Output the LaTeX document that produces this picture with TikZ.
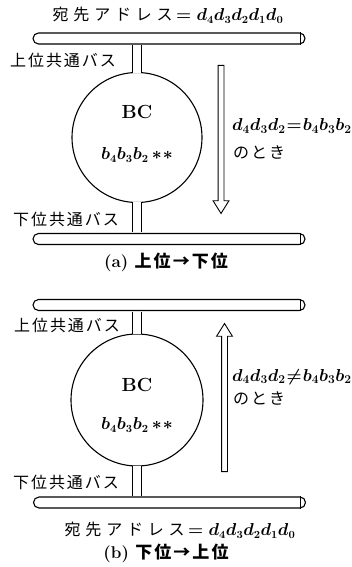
\documentclass[tikz,border=0pt]{standalone}
\usepackage{amsmath}
\usepackage{bm}
\usepackage{fontspec}
\newfontfamily\jp{Noto Sans CJK JP}[LetterSpace=12]
\newfontfamily\jpsp{Noto Sans CJK JP}[LetterSpace=30]
\usetikzlibrary{positioning,calc,shapes.arrows}

\tikzset{
  bus/.style={draw, line width=1.1pt, rounded corners=5.5pt, minimum width=272pt, minimum height=11pt, inner sep=0pt},
  bc/.style={draw, circle, line width=1.1pt, minimum size=130pt, inner sep=0pt},
  stub/.style={line width=1pt, double, double distance=7.5pt},
  lbl/.style={font=\fontsize{16}{18}\selectfont\jp, inner sep=0pt},
  cond/.style={font=\fontsize{17}{19}\selectfont\boldmath, inner sep=0pt, anchor=west},
  bigarrow/.style={single arrow, draw, line width=0.9pt, fill=white, minimum height=148pt, single arrow head extend=5pt, single arrow tip angle=64, inner sep=2.5pt, anchor=tail},
  caption/.style={font=\fontsize{17}{19}\selectfont\bfseries, inner sep=0pt},
}
\newcommand\busend[1]{\draw[line width=1.1pt] ([xshift=-5.5pt]#1.north east) -- ([xshift=-5.5pt]#1.south east);}
\newcommand\dst{{\jpsp 宛先アドレス}$\,=\bm{d_4d_3d_2d_1d_0}$}
\newcommand\adr{$\bm{b_4b_3b_2}\,\bm{{\ast}\mkern1mu{\ast}}$}

\begin{document}
\begin{tikzpicture}[x=1pt,y=-1pt]
\useasboundingbox (0,0) rectangle (352,567);

% (a) upper -> lower
\node[cond, anchor=center, font=\fontsize{16}{18}\selectfont\boldmath] (dsta) at (168,15) {\dst};
\node[bus] (busa) at (169,38.5) {};
\busend{busa}
\node[bc] (bca) at (137,137.5) {};
\node[font=\fontsize{19}{21}\selectfont\bfseries] (bcta) at (137,112) {BC};
\node[font=\fontsize{16}{18}\selectfont\boldmath] (adra) at (137,155) {\adr};
\node[bus] (busb) at (169,239) {};
\busend{busb}
\draw[stub] ($(busa.south -| bca)+(0,0.6)$) -- ($(bca.north)+(0,0.8)$);
\draw[stub] ($(bca.south)+(0,-0.8)$) -- ($(busb.north -| bca)+(0,-0.6)$);
\node[lbl] (upa) at (63,60) {上位共通バス};
\node[lbl] (lowa) at (66,219) {下位共通バス};
\node[bigarrow, shape border rotate=270] (arra) at (221,65) {};
\node[cond] (conda) at (232,126) {$\bm{d_4d_3d_2}\mkern1mu{=}\mkern1mu\bm{b_4b_3b_2}$};
\node[lbl, anchor=west] (whena) at (233,152) {のとき};
\node[caption] (capa) at (166,262) {(a) {\jp 上位→下位}};

% (b) lower -> upper
\node[bus] (busc) at (169,305) {};
\busend{busc}
\node[bc, minimum size=132pt] (bcb) at (137,400) {};
\node[font=\fontsize{19}{21}\selectfont\bfseries] (bctb) at (137,385) {BC};
\node[font=\fontsize{16}{18}\selectfont\boldmath] (adrb) at (137,425) {\adr};
\node[bus] (busd) at (169.5,502.5) {};
\busend{busd}
\draw[stub] ($(busc.south -| bcb)+(0,0.6)$) -- ($(bcb.north)+(0,0.8)$);
\draw[stub] ($(bcb.south)+(0,-0.8)$) -- ($(busd.north -| bcb)+(0,-0.6)$);
\node[lbl] (upb) at (67,325) {上位共通バス};
\node[lbl] (lowb) at (66,482) {下位共通バス};
\node[bigarrow, shape border rotate=90] (arrb) at (224.5,472) {};
\node[cond] (condb) at (232,377) {$\bm{d_4d_3d_2}\mkern1mu{\neq}\mkern1mu\bm{b_4b_3b_2}$};
\node[lbl, anchor=west] (whenb) at (233,398) {のとき};
\node[cond, anchor=center, font=\fontsize{16}{18}\selectfont\boldmath] (dstb) at (180,530) {\dst};
\node[caption] (capb) at (166,553) {(b) {\jp 下位→上位}};
\end{tikzpicture}
\end{document}
